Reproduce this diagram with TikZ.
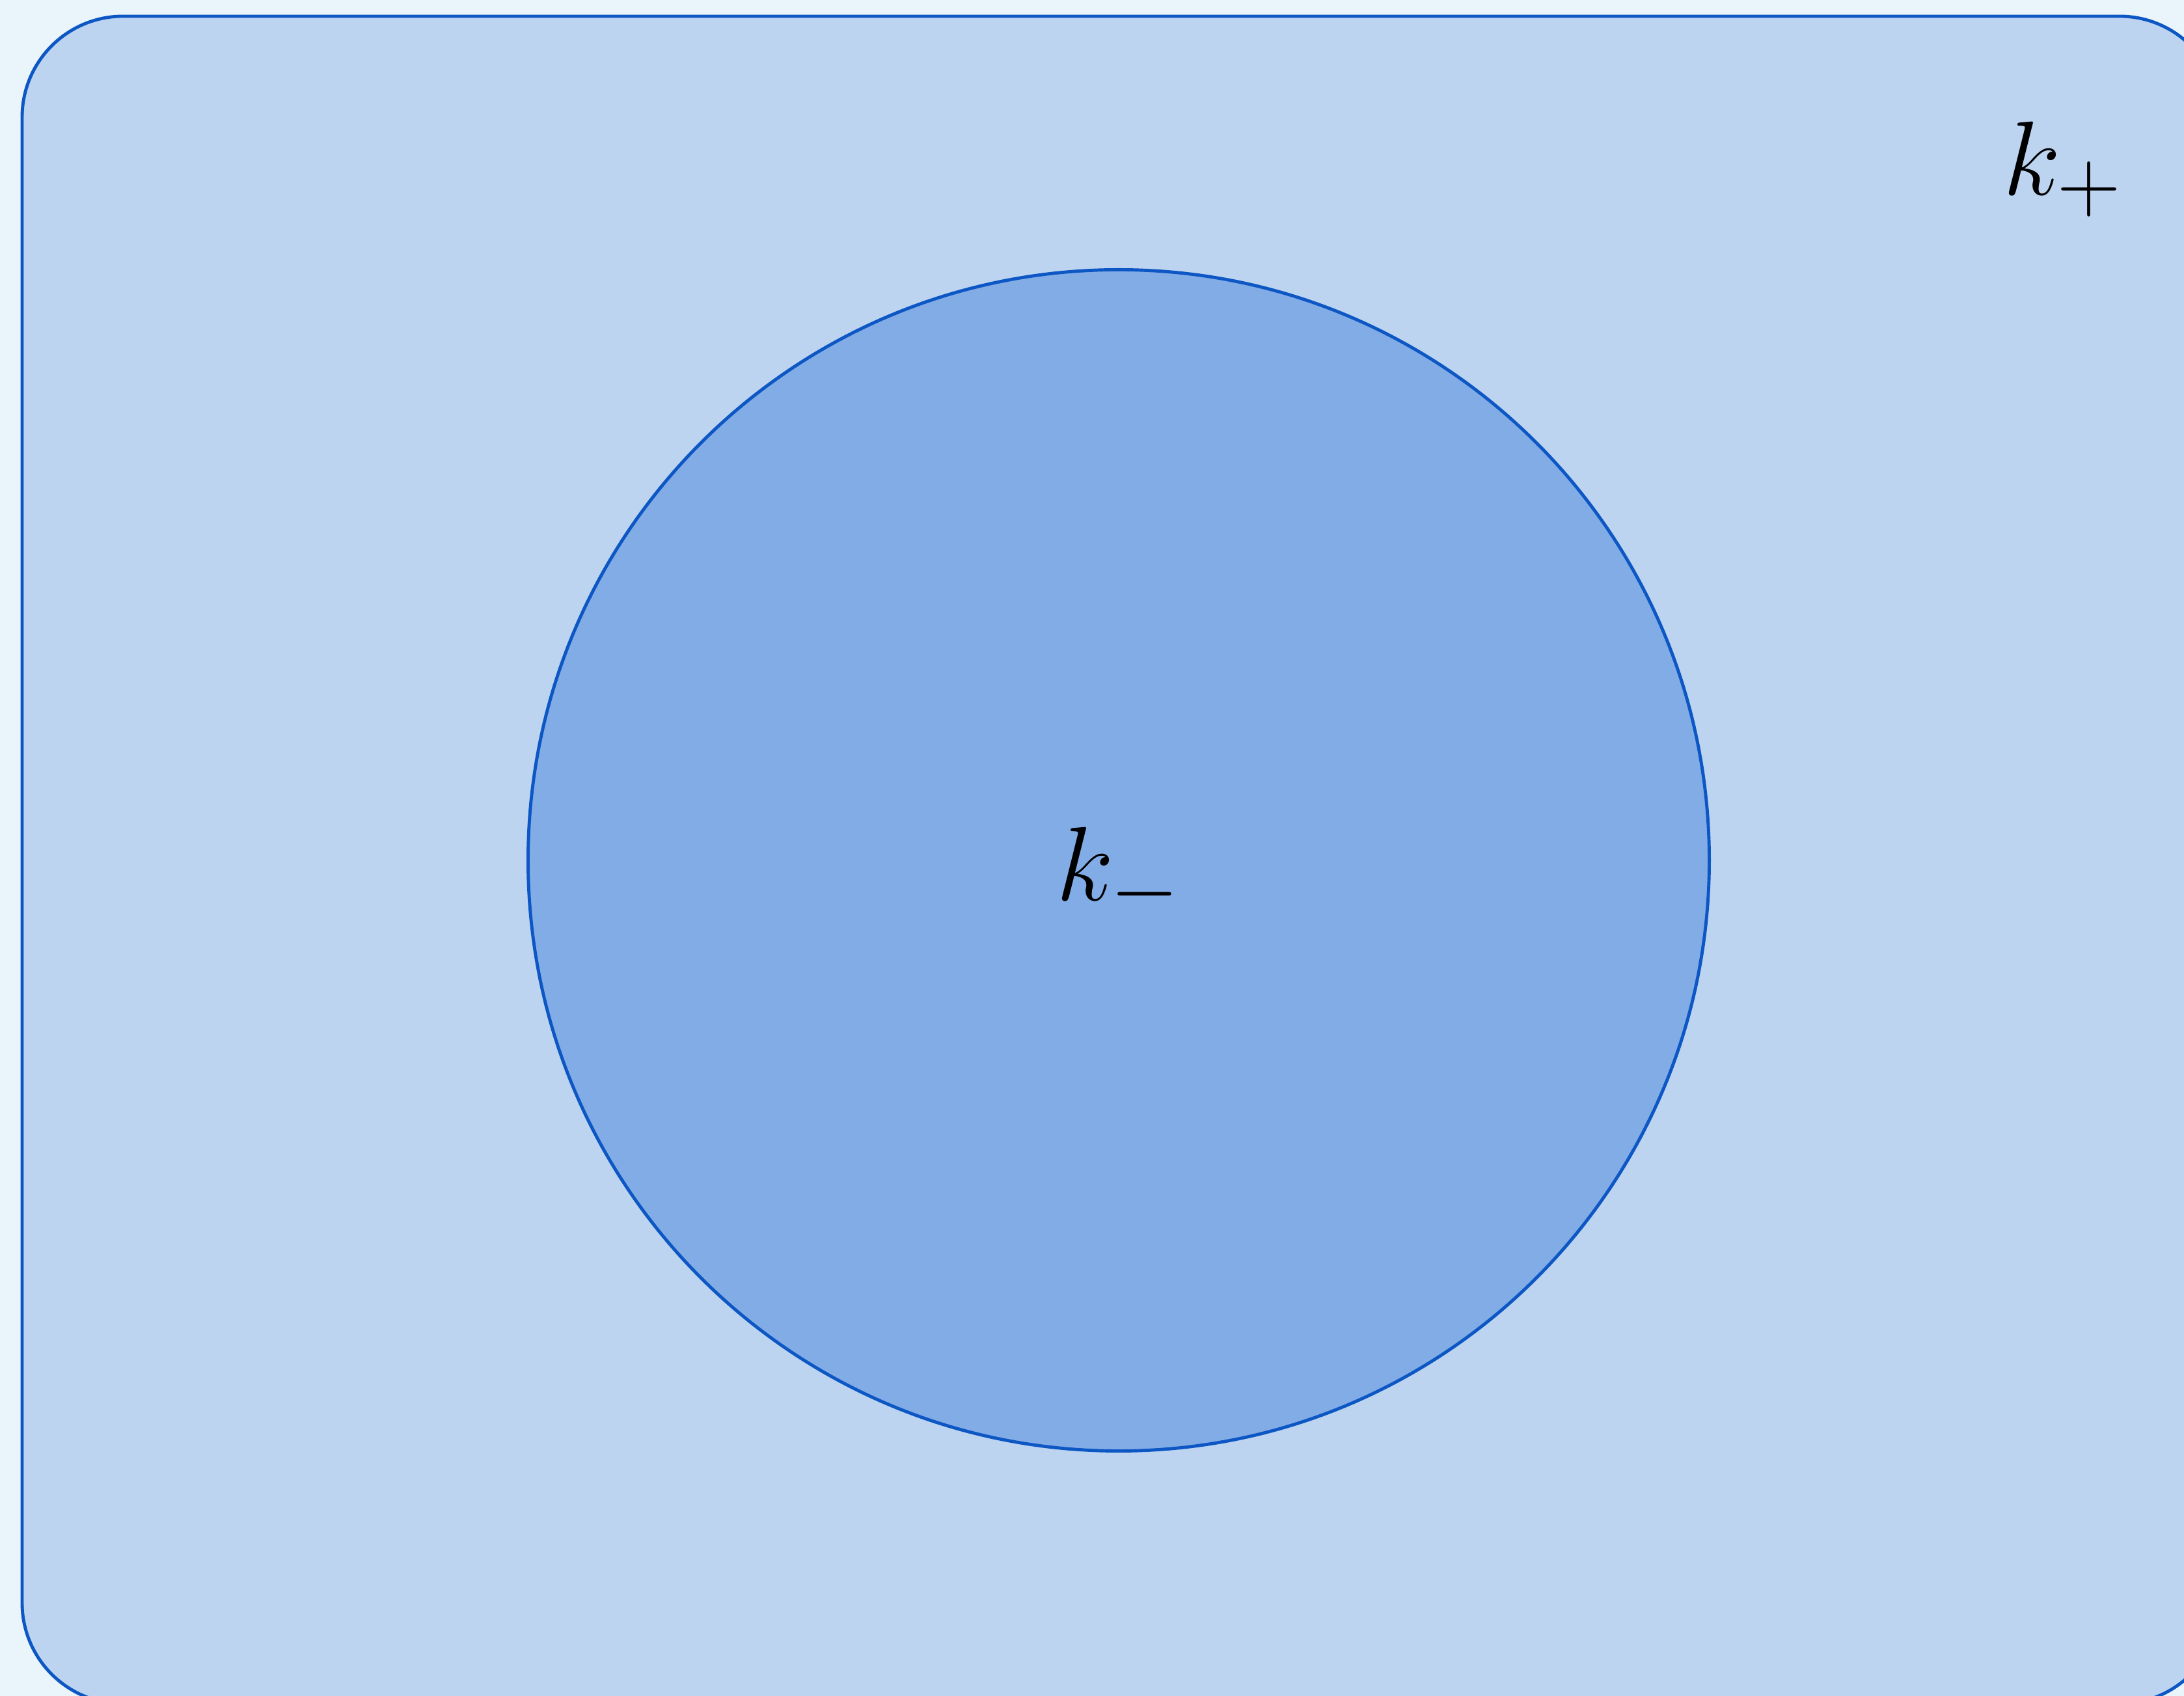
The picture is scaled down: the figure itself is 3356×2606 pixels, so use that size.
\documentclass[tikz,border=0pt]{standalone}
\usetikzlibrary{positioning}
\definecolor{page}{HTML}{EAF4FB}
\definecolor{outer}{HTML}{BDD4F1}
\definecolor{inner}{HTML}{82ACE6}
\definecolor{edge}{HTML}{0D57C4}
\definecolor{ink}{HTML}{000000}
\newcommand{\setname}[1]{\scalebox{1.85}{\Huge$#1$}}
\begin{document}
\begin{tikzpicture}[x=.01cm,y=.01cm,
  region/.style={draw=edge,line width=1.4pt},
  setlabel/.style={text=ink,inner sep=0pt}
]
\useasboundingbox (0,0) rectangle (3356,2606);
\clip (0,0) rectangle (3356,2606);
\fill[page] (0,0) rectangle (3356,2606);
\draw[region,fill=outer,rounded corners=1.55cm] (34,2581) rectangle (3412,-12);
\node[region,fill=inner,circle,minimum size=18.14cm] (kminus) at (1719,1284) {};
\node[setlabel] (kminuslabel) at ([yshift=-.23cm]kminus.center) {\setname{k_-}};
\node[setlabel] (kplus) at (3170,2346) {\setname{k_+}};
\end{tikzpicture}
\end{document}
